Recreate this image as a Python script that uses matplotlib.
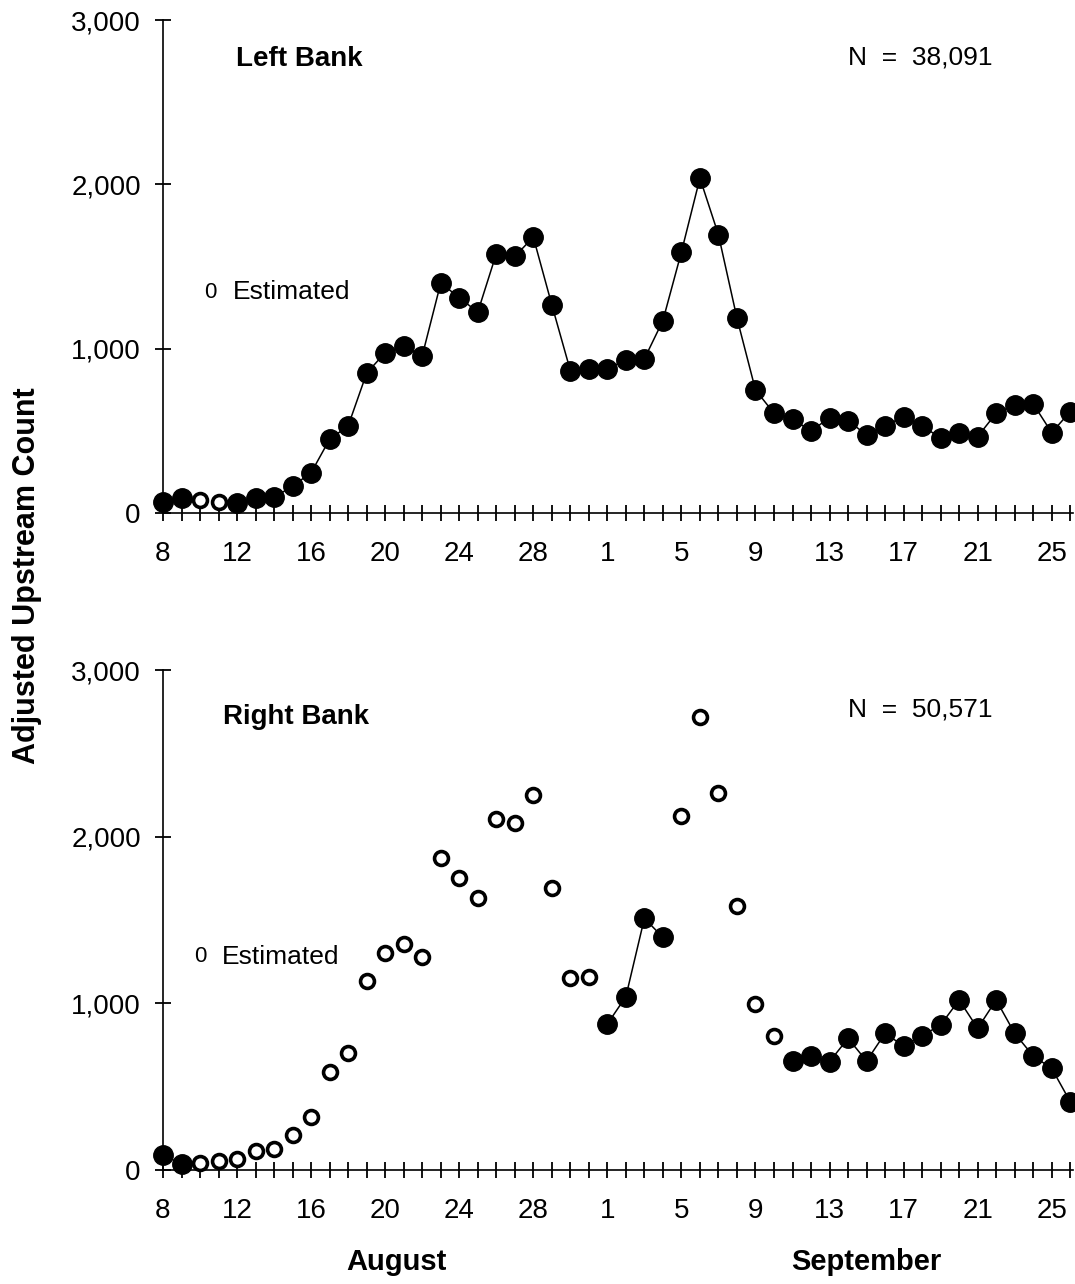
import numpy as np
import matplotlib
matplotlib.use("Agg")
import matplotlib.pyplot as plt

plt.rcParams['font.family'] = ['Liberation Sans', 'DejaVu Sans']

# ---- data -------------------------------------------------------------
# Days Aug 8 .. Sep 26 (50 days)
day_labels = [str(d) for d in range(8, 32)] + [str(d) for d in range(1, 27)]
tick_every = 4

left_counts = [65, 93, 79, 69, 59, 89, 95, 164, 245, 449, 530, 851, 976, 1017,
               956, 1399, 1311, 1222, 1577, 1561, 1679, 1267, 867, 877,
               877, 932, 938, 1171, 1588, 2038, 1693, 1186, 749, 607, 571, 499,
               580, 562, 475, 530, 587, 532, 455, 485, 465, 607, 658, 664, 489, 617]
left_estimated = [0, 0, 1, 1] + [0] * 46

right_counts = [90, 36, 44, 56, 66, 114, 124, 210, 316, 586, 700, 1136, 1300, 1356,
                1276, 1870, 1750, 1634, 2104, 2080, 2248, 1694, 1154, 1160,
                876, 1040, 1510, 1396, 2126, 2720, 2264, 1584, 994, 806, 654, 686,
                650, 790, 654, 820, 744, 806, 870, 1020, 850, 1020, 820, 684, 610, 410]
right_estimated = [0, 0] + [1] * 22 + [0, 0, 0, 0] + [1] * 6 + [0] * 16

panel_titles = ["Left Bank", "Right Bank"]
panel_totals = ["N  =  38,091", "N  =  50,571"]
y_ticks = [0, 1000, 2000, 3000]
y_tick_texts = ["0", "1,000", "2,000", "3,000"]

# ---- figure -------------------------------------------------------------
W, H = 1075, 1284
fig = plt.figure(figsize=(W / 100, H / 100), dpi=100)

def fx(px):
    return px / W

def fy(py):
    return 1 - py / H

ax_left = 163
ax_right = 1073
ax1 = fig.add_axes([fx(ax_left), fy(513), fx(ax_right - ax_left), fy(20) - fy(513)])
ax2 = fig.add_axes([fx(ax_left), fy(1170), fx(ax_right - ax_left), fy(670) - fy(1170)])

x = np.arange(len(day_labels))

def draw(ax, counts, est):
    counts = np.array(counts, dtype=float)
    est = np.array(est, dtype=bool)
    line_vals = np.where(est, np.nan, counts)
    ax.plot(x, line_vals, color='black', lw=1.1, zorder=2, clip_on=False)
    ax.plot(x[~est], counts[~est], 'o', ms=14, color='black', mec='black',
            zorder=3, clip_on=False)
    ax.plot(x[est], counts[est], 'o', ms=10, mfc='white', mec='black', mew=2.6,
            zorder=3, clip_on=False)
    ax.set_xlim(0, 49.15)
    ax.set_ylim(0, 3000)
    for s in ['top', 'right']:
        ax.spines[s].set_visible(False)
    for s in ['left', 'bottom']:
        ax.spines[s].set_linewidth(1.2)
    ax.set_xticks(x)
    ax.set_xticklabels([t if i % tick_every == 0 else "" for i, t in enumerate(day_labels)])
    ax.set_yticks(y_ticks)
    ax.set_yticklabels(y_tick_texts)
    ax.tick_params(axis='x', direction='inout', length=12, width=1.3, pad=14,
                   labelsize=20)
    ax.tick_params(axis='y', direction='inout', length=12, width=1.3, pad=10,
                   labelsize=20)

draw(ax1, left_counts, left_estimated)
draw(ax2, right_counts, right_estimated)

# ---- texts --------------------------------------------------------------
fig.text(fx(236), fy(59), panel_titles[0], fontsize=20, fontweight='bold',
         ha='left', va='center')
fig.text(fx(848), fy(57), panel_totals[0], fontsize=19, ha='left', va='center')
fig.text(fx(210), fy(292), "0", fontsize=16, ha='center', va='center')
fig.text(fx(233), fy(292), "Estimated", fontsize=19, ha='left', va='center')

fig.text(fx(223), fy(717), panel_titles[1], fontsize=20, fontweight='bold',
         ha='left', va='center')
fig.text(fx(848), fy(709), panel_totals[1], fontsize=19, ha='left', va='center')
fig.text(fx(200), fy(957), "0", fontsize=16, ha='center', va='center')
fig.text(fx(222), fy(957), "Estimated", fontsize=19, ha='left', va='center')

fig.text(fx(396), fy(1262), "August", fontsize=21, fontweight='bold',
         ha='center', va='center')
fig.text(fx(866), fy(1262), "September", fontsize=21, fontweight='bold',
         ha='center', va='center')
fig.text(fx(27), fy(576), "Adjusted Upstream Count", fontsize=22, fontweight='bold',
         rotation=90, ha='center', va='center')

fig.savefig("out.png", dpi=100)
